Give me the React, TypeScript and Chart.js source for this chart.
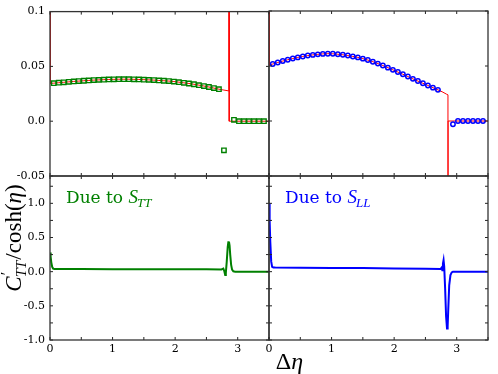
import React, { useEffect, useRef } from "react";
import { Chart, registerables } from "chart.js";
Chart.register(...registerables);

const W = 498;
const H = 374;

// ---- Data ----
// Top-left: simulation markers (S_TT)
const TT_SIM_X = [0.06, 0.14, 0.22, 0.30, 0.38, 0.46, 0.54, 0.62, 0.70, 0.78, 0.86, 0.94, 1.02, 1.10, 1.18, 1.26, 1.34, 1.42, 1.50, 1.58, 1.66, 1.74, 1.82, 1.90, 1.98, 2.06, 2.14, 2.22, 2.30, 2.38, 2.46, 2.54, 2.62, 2.70, 2.78, 2.94, 3.02, 3.10, 3.18, 3.26, 3.34, 3.42];
const TT_SIM_Y = [0.0347, 0.0351, 0.0355, 0.0359, 0.0363, 0.0366, 0.0369, 0.0372, 0.0375, 0.0377, 0.0379, 0.0381, 0.0382, 0.0383, 0.0383, 0.0383, 0.0382, 0.0381, 0.0379, 0.0377, 0.0375, 0.0372, 0.0369, 0.0366, 0.0362, 0.0356, 0.0350, 0.0344, 0.0337, 0.0329, 0.0321, 0.0312, 0.0302, 0.0292, -0.0266, 0.0013, 0, 0, 0, 0, 0, 0];
// Top-left: theory curve (red)
const TT_TH_X = [0, 0.0005, 0.06, 0.14, 0.22, 0.30, 0.38, 0.46, 0.54, 0.62, 0.70, 0.78, 0.86, 0.94, 1.02, 1.10, 1.18, 1.26, 1.34, 1.42, 1.50, 1.58, 1.66, 1.74, 1.82, 1.90, 1.98, 2.06, 2.14, 2.22, 2.30, 2.38, 2.46, 2.54, 2.62, 2.70, 2.78, 2.86, 2.862, 2.864, 3.5];
const TT_TH_Y = [0.5, 0.0345, 0.0347, 0.0351, 0.0355, 0.0359, 0.0363, 0.0366, 0.0369, 0.0372, 0.0375, 0.0377, 0.0379, 0.0381, 0.0382, 0.0383, 0.0383, 0.0383, 0.0382, 0.0381, 0.0379, 0.0377, 0.0375, 0.0372, 0.0369, 0.0366, 0.0362, 0.0356, 0.0350, 0.0344, 0.0337, 0.0329, 0.0321, 0.0312, 0.0302, 0.0292, 0.0284, 0.0276, 0.5, 0, 0];

// Top-right: simulation markers (S_LL)
const LL_SIM_X = [0.06, 0.14, 0.22, 0.30, 0.38, 0.46, 0.54, 0.62, 0.70, 0.78, 0.86, 0.94, 1.02, 1.10, 1.18, 1.26, 1.34, 1.42, 1.50, 1.58, 1.66, 1.74, 1.82, 1.90, 1.98, 2.06, 2.14, 2.22, 2.30, 2.38, 2.46, 2.54, 2.62, 2.70, 2.94, 3.02, 3.10, 3.18, 3.26, 3.34, 3.42];
const LL_SIM_Y = [0.0518, 0.0532, 0.0545, 0.0557, 0.0568, 0.0578, 0.0587, 0.0595, 0.0601, 0.0606, 0.0610, 0.0612, 0.0611, 0.0607, 0.0602, 0.0595, 0.0587, 0.0578, 0.0567, 0.0554, 0.0539, 0.0522, 0.0504, 0.0485, 0.0465, 0.0445, 0.0425, 0.0404, 0.0383, 0.0363, 0.0343, 0.0323, 0.0303, 0.0283, -0.003, 0, 0, 0, 0, 0, 0];
// Top-right: theory curve (red)
const LL_TH_X = [0, 0.0005, 0.06, 0.14, 0.22, 0.30, 0.38, 0.46, 0.54, 0.62, 0.70, 0.78, 0.86, 0.94, 1.02, 1.10, 1.18, 1.26, 1.34, 1.42, 1.50, 1.58, 1.66, 1.74, 1.82, 1.90, 1.98, 2.06, 2.14, 2.22, 2.30, 2.38, 2.46, 2.54, 2.62, 2.70, 2.78, 2.84, 2.86, 2.861, 2.862, 3.5];
const LL_TH_Y = [0.5, 0.0508, 0.0518, 0.0532, 0.0545, 0.0557, 0.0568, 0.0578, 0.0587, 0.0595, 0.0601, 0.0606, 0.0610, 0.0612, 0.0611, 0.0607, 0.0602, 0.0595, 0.0587, 0.0578, 0.0567, 0.0554, 0.0539, 0.0522, 0.0504, 0.0485, 0.0465, 0.0445, 0.0425, 0.0404, 0.0383, 0.0363, 0.0343, 0.0323, 0.0303, 0.0283, 0.0262, 0.0243, 0.0238, -0.5, 0, 0];

// Bottom-left: due to S_TT (green)
const BL_X = [0, 0.01, 0.02, 0.035, 0.05, 0.07, 0.1, 0.5, 1.0, 1.5, 2.0, 2.5, 2.74, 2.77, 2.785, 2.80, 2.81, 2.825, 2.84, 2.85, 2.86, 2.87, 2.88, 2.895, 2.91, 2.93, 2.96, 3.5];
const BL_Y = [0.28, 0.22, 0.14, 0.07, 0.045, 0.04, 0.039, 0.038, 0.037, 0.036, 0.035, 0.034, 0.033, 0.045, 0.01, -0.05, -0.02, 0.15, 0.36, 0.43, 0.44, 0.38, 0.25, 0.1, 0.03, 0.005, 0, 0];

// Bottom-right: due to S_LL (blue)
const BR_X = [0, 0.01, 0.02, 0.035, 0.05, 0.07, 0.1, 0.5, 1.0, 1.5, 2.0, 2.5, 2.74, 2.76, 2.77, 2.78, 2.79, 2.80, 2.815, 2.83, 2.845, 2.855, 2.865, 2.88, 2.90, 2.92, 2.94, 3.5];
const BR_Y = [1.0, 0.75, 0.45, 0.15, 0.07, 0.062, 0.06, 0.058, 0.055, 0.052, 0.048, 0.042, 0.038, 0.06, 0.02, 0.12, 0.17, 0.08, -0.25, -0.65, -0.83, -0.8, -0.55, -0.2, -0.05, -0.01, 0, 0];

// Tick positions
const X_TICKS = [0, 0.5, 1, 1.5, 2, 2.5, 3, 3.5];
const TOP_Y_TICKS = [-0.05, 0, 0.05, 0.1];
const BOT_Y_TICKS = [-1, -0.75, -0.5, -0.25, 0, 0.25, 0.5, 0.75, 1, 1.25];

const GREEN = "#008000";
const BLUE = "#0000ff";
const RED = "#ff0000";
const TICK_FONT = { family: "DejaVu Serif", size: 11 };
const MATH = "Liberation Serif";

const pts = (xs: number[], ys: number[]) => xs.map((x, i) => ({ x, y: ys[i] }));

type Area = { l: number; r: number; t: number; b: number };
const AREAS: Area[] = [
  { l: 50, r: 269, t: 11, b: 176 },
  { l: 269, r: 488, t: 11, b: 176 },
  { l: 50, r: 269, t: 176, b: 340 },
  { l: 269, r: 488, t: 176, b: 340 },
];

interface Part { t: string; font: string; dy: number; stack?: boolean; dx?: number; }

function drawParts(ctx: CanvasRenderingContext2D, parts: Part[], x: number, y: number, center: boolean) {
  let cur = 0;
  let prevStart = 0;
  const starts: number[] = [];
  for (const p of parts) {
    ctx.font = p.font;
    const w = ctx.measureText(p.t).width;
    const sx = (p.stack ? prevStart : cur) + (p.dx || 0);
    starts.push(sx);
    prevStart = sx;
    cur = Math.max(cur, sx + w);
  }
  const off = center ? -cur / 2 : 0;
  parts.forEach((p, i) => {
    ctx.font = p.font;
    ctx.fillText(p.t, x + off + starts[i], y + p.dy);
  });
}

function framePlugin(yTicks: number[]) {
  return {
    id: "frame",
    afterDatasetsDraw(chart: any) {
      const { ctx, chartArea: a, scales } = chart;
      ctx.save();
      ctx.strokeStyle = "#222";
      ctx.lineWidth = 1;
      ctx.beginPath();
      for (const v of X_TICKS) {
        const px = scales.x.getPixelForValue(v);
        ctx.moveTo(px, a.top);
        ctx.lineTo(px, a.top + 3);
        ctx.moveTo(px, a.bottom);
        ctx.lineTo(px, a.bottom - 3);
      }
      for (const v of yTicks) {
        const py = scales.y.getPixelForValue(v);
        ctx.moveTo(a.left, py);
        ctx.lineTo(a.left + 3, py);
        ctx.moveTo(a.right, py);
        ctx.lineTo(a.right - 3, py);
      }
      ctx.stroke();
      ctx.lineWidth = 1.3;
      ctx.strokeStyle = "#333";
      ctx.strokeRect(a.left, a.top, a.right - a.left, a.bottom - a.top);
      ctx.restore();
    },
  };
}

function textPlugin(draw: (ctx: CanvasRenderingContext2D) => void) {
  return {
    id: "texts",
    afterDraw(chart: any) {
      const ctx = chart.ctx as CanvasRenderingContext2D;
      ctx.save();
      ctx.textBaseline = "alphabetic";
      ctx.textAlign = "left";
      draw(ctx);
      ctx.restore();
    },
  };
}

const topFmt = (v: number) => {
  const k = Math.round(v * 100);
  return k === 10 ? "0.1" : k === 5 ? "0.05" : k === 0 ? "0.0" : k === -5 ? "-0.05" : "";
};
const botFmt = (v: number) => {
  const k = Math.round(v * 100);
  if (Math.abs(v * 100 - k) > 1e-6) return "";
  return k === 100 ? "1.0" : k === 50 ? "0.5" : k === 0 ? "0.0" : k === -50 ? "-0.5" : k === -100 ? "-1.0" : "";
};
const xFmt = (v: number) => {
  const r = Math.round(v);
  return Math.abs(v - r) < 1e-6 && r <= 3 ? String(r) : "";
};

function makeOptions(area: Area, showX: boolean, showY: boolean, top: boolean) {
  return {
    responsive: false,
    animation: false,
    devicePixelRatio: 1,
    events: [],
    layout: {
      padding: {
        left: showY ? 0 : area.l,
        right: W - area.r,
        top: area.t,
        bottom: showX ? 0 : H - area.b,
      },
    },
    plugins: { legend: { display: false }, tooltip: { enabled: false }, title: { display: false } },
    scales: {
      x: {
        type: "linear",
        min: 0,
        max: 3.5,
        display: showX,
        afterFit: (s: any) => { s.height = showX ? H - area.b : 0; },
        grid: { display: false, drawTicks: false },
        border: { display: false },
        ticks: { stepSize: 0.5, autoSkip: false, maxRotation: 0, padding: 3, color: "#000", font: TICK_FONT, callback: (v: any) => xFmt(Number(v)) },
      },
      y: {
        type: "linear",
        min: top ? -0.05 : -1,
        max: top ? 0.1 : 1.4,
        display: showY,
        afterFit: (s: any) => { s.width = showY ? area.l : 0; },
        grid: { display: false, drawTicks: false },
        border: { display: false },
        ticks: { stepSize: top ? 0.05 : 0.25, autoSkip: false, padding: 5, color: "#000", font: TICK_FONT, callback: (v: any) => (top ? topFmt(Number(v)) : botFmt(Number(v))) },
      },
    },
  } as any;
}

export default function App() {
  const c0 = useRef<HTMLCanvasElement>(null);
  const c1 = useRef<HTMLCanvasElement>(null);
  const c2 = useRef<HTMLCanvasElement>(null);
  const c3 = useRef<HTMLCanvasElement>(null);

  useEffect(() => {
    const charts: Chart[] = [];
    // Top-left
    charts.push(new Chart(c0.current!, {
      type: "scatter",
      data: {
        datasets: [
          { data: pts(TT_SIM_X, TT_SIM_Y), showLine: false, pointStyle: "rect", pointRadius: 3.1, pointBorderColor: GREEN, pointBackgroundColor: "rgba(0,0,0,0)", pointBorderWidth: 1.4 },
          { data: pts(TT_TH_X, TT_TH_Y), showLine: true, borderColor: RED, borderWidth: 1, pointRadius: 0, clip: 0 },
        ],
      } as any,
      options: makeOptions(AREAS[0], false, true, true),
      plugins: [framePlugin(TOP_Y_TICKS)],
    }));
    // Top-right
    charts.push(new Chart(c1.current!, {
      type: "scatter",
      data: {
        datasets: [
          { data: pts(LL_SIM_X, LL_SIM_Y), showLine: false, pointStyle: "circle", pointRadius: 2.2, pointBorderColor: BLUE, pointBackgroundColor: "rgba(0,0,0,0)", pointBorderWidth: 1.5 },
          { data: pts(LL_TH_X, LL_TH_Y), showLine: true, borderColor: RED, borderWidth: 1, pointRadius: 0, clip: 0 },
        ],
      } as any,
      options: makeOptions(AREAS[1], false, false, true),
      plugins: [framePlugin(TOP_Y_TICKS)],
    }));
    // Bottom-left
    charts.push(new Chart(c2.current!, {
      type: "scatter",
      data: {
        datasets: [
          { data: pts(BL_X, BL_Y), showLine: true, borderColor: GREEN, borderWidth: 2, pointRadius: 0, clip: 0 },
        ],
      } as any,
      options: makeOptions(AREAS[2], true, true, false),
      plugins: [
        framePlugin(BOT_Y_TICKS),
        textPlugin((ctx) => {
          ctx.fillStyle = GREEN;
          drawParts(ctx, [
            { t: "Due to ", font: "17px 'DejaVu Serif'", dy: 0 },
            { t: "S", font: `italic 19px '${MATH}'`, dy: 0 },
            { t: "TT", font: `italic 13px '${MATH}'`, dy: 4, dx: -1 },
          ], 66, 203, false);
          // y-axis label
          ctx.fillStyle = "#000";
          ctx.save();
          ctx.translate(21, 238);
          ctx.rotate(-Math.PI / 2);
          drawParts(ctx, [
            { t: "C", font: `italic 23px '${MATH}'`, dy: 0 },
            { t: "\u2032", font: `16px '${MATH}'`, dy: -9, dx: 1 },
            { t: "TT", font: `italic 15px '${MATH}'`, dy: 5, stack: true, dx: -2 },
            { t: "/cosh(", font: `23px '${MATH}'`, dy: 0, dx: 1 },
            { t: "\u03B7", font: `italic 23px '${MATH}'`, dy: 0 },
            { t: ")", font: `23px '${MATH}'`, dy: 0 },
          ], 0, 0, true);
          ctx.restore();
        }),
      ],
    }));
    // Bottom-right
    charts.push(new Chart(c3.current!, {
      type: "scatter",
      data: {
        datasets: [
          { data: pts(BR_X, BR_Y), showLine: true, borderColor: BLUE, borderWidth: 2, pointRadius: 0, clip: 0 },
        ],
      } as any,
      options: makeOptions(AREAS[3], true, false, false),
      plugins: [
        framePlugin(BOT_Y_TICKS),
        textPlugin((ctx) => {
          ctx.fillStyle = BLUE;
          drawParts(ctx, [
            { t: "Due to ", font: "17px 'DejaVu Serif'", dy: 0 },
            { t: "S", font: `italic 19px '${MATH}'`, dy: 0 },
            { t: "LL", font: `italic 13px '${MATH}'`, dy: 4, dx: -1 },
          ], 285, 203, false);
          ctx.fillStyle = "#000";
          drawParts(ctx, [
            { t: "\u0394", font: `24px '${MATH}'`, dy: 0 },
            { t: "\u03B7", font: `italic 24px '${MATH}'`, dy: 0 },
          ], 289.5, 369, true);
        }),
      ],
    }));
    return () => charts.forEach((c) => c.destroy());
  }, []);

  const cs = { position: "absolute" as const, left: 0, top: 0, width: W, height: H };
  return (
    <div style={{ position: "absolute", left: 0, top: 0, width: W, height: H, background: "#fff" }}>
      <canvas ref={c0} width={W} height={H} style={cs} />
      <canvas ref={c1} width={W} height={H} style={cs} />
      <canvas ref={c2} width={W} height={H} style={cs} />
      <canvas ref={c3} width={W} height={H} style={cs} />
    </div>
  );
}
